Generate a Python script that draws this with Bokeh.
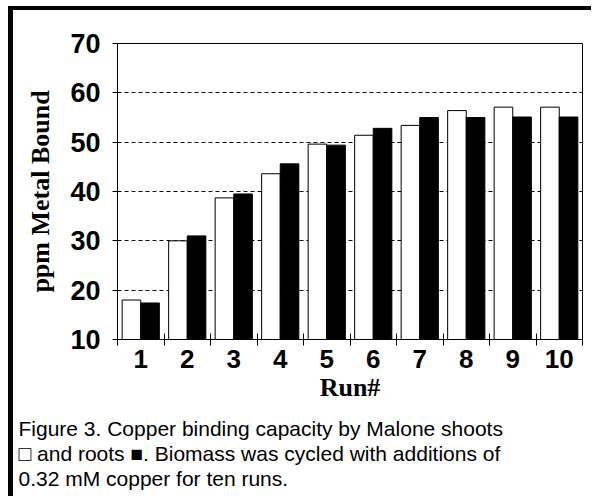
from bokeh.plotting import figure
from bokeh.models import FixedTicker, Title, ColumnDataSource
from bokeh.transform import dodge
from bokeh.embed import file_html
from bokeh.resources import INLINE

runs = [1, 2, 3, 4, 5, 6, 7, 8, 9, 10]
shoots = [18.0, 30.0, 38.7, 43.6, 49.6, 51.4, 53.4, 56.4, 57.1, 57.1]
roots = [17.4, 31.0, 39.5, 45.6, 49.4, 52.8, 55.0, 55.0, 55.1, 55.1]
y_ticks = [10, 20, 30, 40, 50, 60, 70]
grid_ticks = [20, 30, 40, 50, 60]
run_bounds = [0.5 + i for i in range(11)]
caption_lines = [
    "Figure 3. Copper binding capacity by Malone shoots",
    "\u25a1 and roots \u25a0. Biomass was cycled with additions of",
    "0.32 mM copper for ten runs.",
]

src = ColumnDataSource(dict(run=runs, shoots=shoots, roots=roots))

p = figure(width=583, height=490, x_range=(0.5, 10.5), y_range=(10, 70),
           output_backend="svg", toolbar_location=None,
           min_border_left=104, min_border_top=33, min_border_right=14,
           min_border_bottom=161)
p.styles = {"margin-left": "8px", "margin-top": "6px",
            "border-top": "4px solid black", "border-left": "5px solid black"}

p.vbar(x=dodge("run", -0.2), top="shoots", bottom=10, width=0.4, source=src,
       fill_color="white", line_color="black", line_width=1)
p.vbar(x=dodge("run", 0.2), top="roots", bottom=10, width=0.4, source=src,
       fill_color="black", line_color="black", line_width=1)

p.outline_line_color = "black"
p.outline_line_width = 1
p.xgrid.visible = False
p.ygrid.ticker = FixedTicker(ticks=grid_ticks)
p.ygrid.grid_line_color = "black"
p.ygrid.grid_line_dash = "4 3"
p.ygrid.grid_line_width = 1

xa = p.xaxis[0]
xa.ticker = FixedTicker(ticks=runs, minor_ticks=run_bounds)
xa.major_tick_in = 0
xa.major_tick_out = 0
xa.minor_tick_in = 6
xa.minor_tick_out = 6
xa.minor_tick_line_color = "black"
xa.axis_line_color = "black"
xa.major_label_text_font = "Liberation Sans"
xa.major_label_text_font_style = "bold"
xa.major_label_text_font_size = "26px"
xa.major_label_text_color = "black"
xa.major_label_standoff = 4
xa.axis_label = "Run#"
xa.axis_label_text_font = "Liberation Serif"
xa.axis_label_text_font_style = "bold"
xa.axis_label_text_font_size = "26px"
xa.axis_label_text_color = "black"
xa.axis_label_standoff = 2

ya = p.yaxis[0]
ya.ticker = FixedTicker(ticks=y_ticks)
ya.major_tick_in = 0
ya.major_tick_out = 5
ya.minor_tick_line_color = None
ya.axis_line_color = "black"
ya.major_label_text_font = "Liberation Sans"
ya.major_label_text_font_style = "bold"
ya.major_label_text_font_size = "27px"
ya.major_label_text_color = "black"
ya.major_label_standoff = 12
ya.axis_label = "ppm Metal Bound"
ya.axis_label_text_font = "Liberation Serif"
ya.axis_label_text_font_style = "bold"
ya.axis_label_text_font_size = "26px"
ya.axis_label_text_color = "black"
ya.axis_label_standoff = 12

for i, line in enumerate(caption_lines):
    p.add_layout(Title(text=line, align="left", offset=-99,
                       text_font="Liberation Sans", text_font_size="21px",
                       text_font_style="normal", text_color="black",
                       text_line_height=1.0,
                       padding=dict(left=0, right=0, top=10 if i == 0 else 0, bottom=0),
                       standoff=0), "below")

open("out.html", "w").write(file_html(p, INLINE))
